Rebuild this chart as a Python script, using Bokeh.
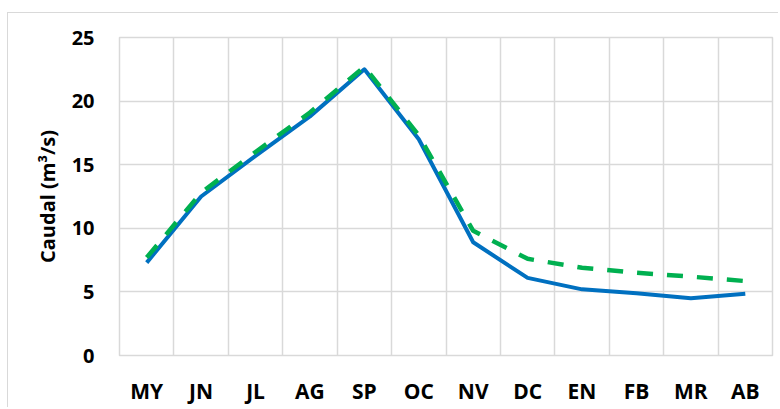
from bokeh.plotting import figure
from bokeh.models import Range1d, FixedTicker, ColumnDataSource
from bokeh.embed import file_html
from bokeh.resources import INLINE

months = ["MY", "JN", "JL", "AG", "SP", "OC", "NV", "DC", "EN", "FB", "MR", "AB"]
caudal_solid = [7.3, 12.5, 15.7, 18.8, 22.5, 17.0, 8.9, 6.1, 5.2, 4.9, 4.5, 4.85]
caudal_dash = [7.7, 12.8, 16.0, 19.1, 22.7, 17.3, 9.8, 7.6, 6.9, 6.5, 6.2, 5.85]
y_ticks = [0, 5, 10, 15, 20, 25]

xpos = [i + 0.5 for i in range(len(months))]
src = ColumnDataSource(dict(x=xpos, a=caudal_solid, b=caudal_dash))

FONT = "Open Sans"

p = figure(
    frame_width=653, frame_height=318,
    min_border_left=111, min_border_top=24, min_border_right=6, min_border_bottom=50,
    x_range=Range1d(0, len(months)), y_range=Range1d(0, 25),
    output_backend="svg", toolbar_location=None,
    background_fill_color="white", border_fill_color="white",
    styles={"border-top": "1.5px solid #d9d9d9", "border-left": "1.5px solid #d9d9d9",
            "margin-top": "12px", "margin-left": "7px"},
)
p.outline_line_color = "#d9d9d9"
p.outline_line_width = 1.5

p.xaxis.ticker = FixedTicker(ticks=xpos)
p.xaxis.major_label_overrides = {x: m for x, m in zip(xpos, months)}
p.xgrid.ticker = FixedTicker(ticks=list(range(len(months) + 1)))
p.yaxis.ticker = FixedTicker(ticks=y_ticks)
p.ygrid.ticker = FixedTicker(ticks=y_ticks)

for g in (p.xgrid, p.ygrid):
    g.grid_line_color = "#d9d9d9"
    g.grid_line_width = 1.5

for ax in (p.xaxis, p.yaxis):
    ax.axis_line_color = None
    ax.major_tick_line_color = None
    ax.minor_tick_line_color = None
    ax.major_tick_out = 0
    ax.major_tick_in = 0
    ax.major_label_text_font = FONT
    ax.major_label_text_font_style = "bold"
    ax.major_label_text_color = "black"

p.xaxis.major_label_text_font_size = "21px"
p.xaxis.major_label_standoff = 21
p.yaxis.major_label_text_font_size = "20px"
p.yaxis.major_label_standoff = 25

p.yaxis.axis_label = "Caudal (m³/s)"
p.yaxis.axis_label_text_font = FONT
p.yaxis.axis_label_text_font_style = "bold"
p.yaxis.axis_label_text_font_size = "20px"
p.yaxis.axis_label_text_color = "black"
p.yaxis.axis_label_standoff = 8

p.line("x", "a", source=src, line_color="#0070C0", line_width=4, line_join="round")
p.line("x", "b", source=src, line_color="#00B050", line_width=4.5, line_dash="16 14")

open("out.html", "w").write(file_html(p, INLINE))
